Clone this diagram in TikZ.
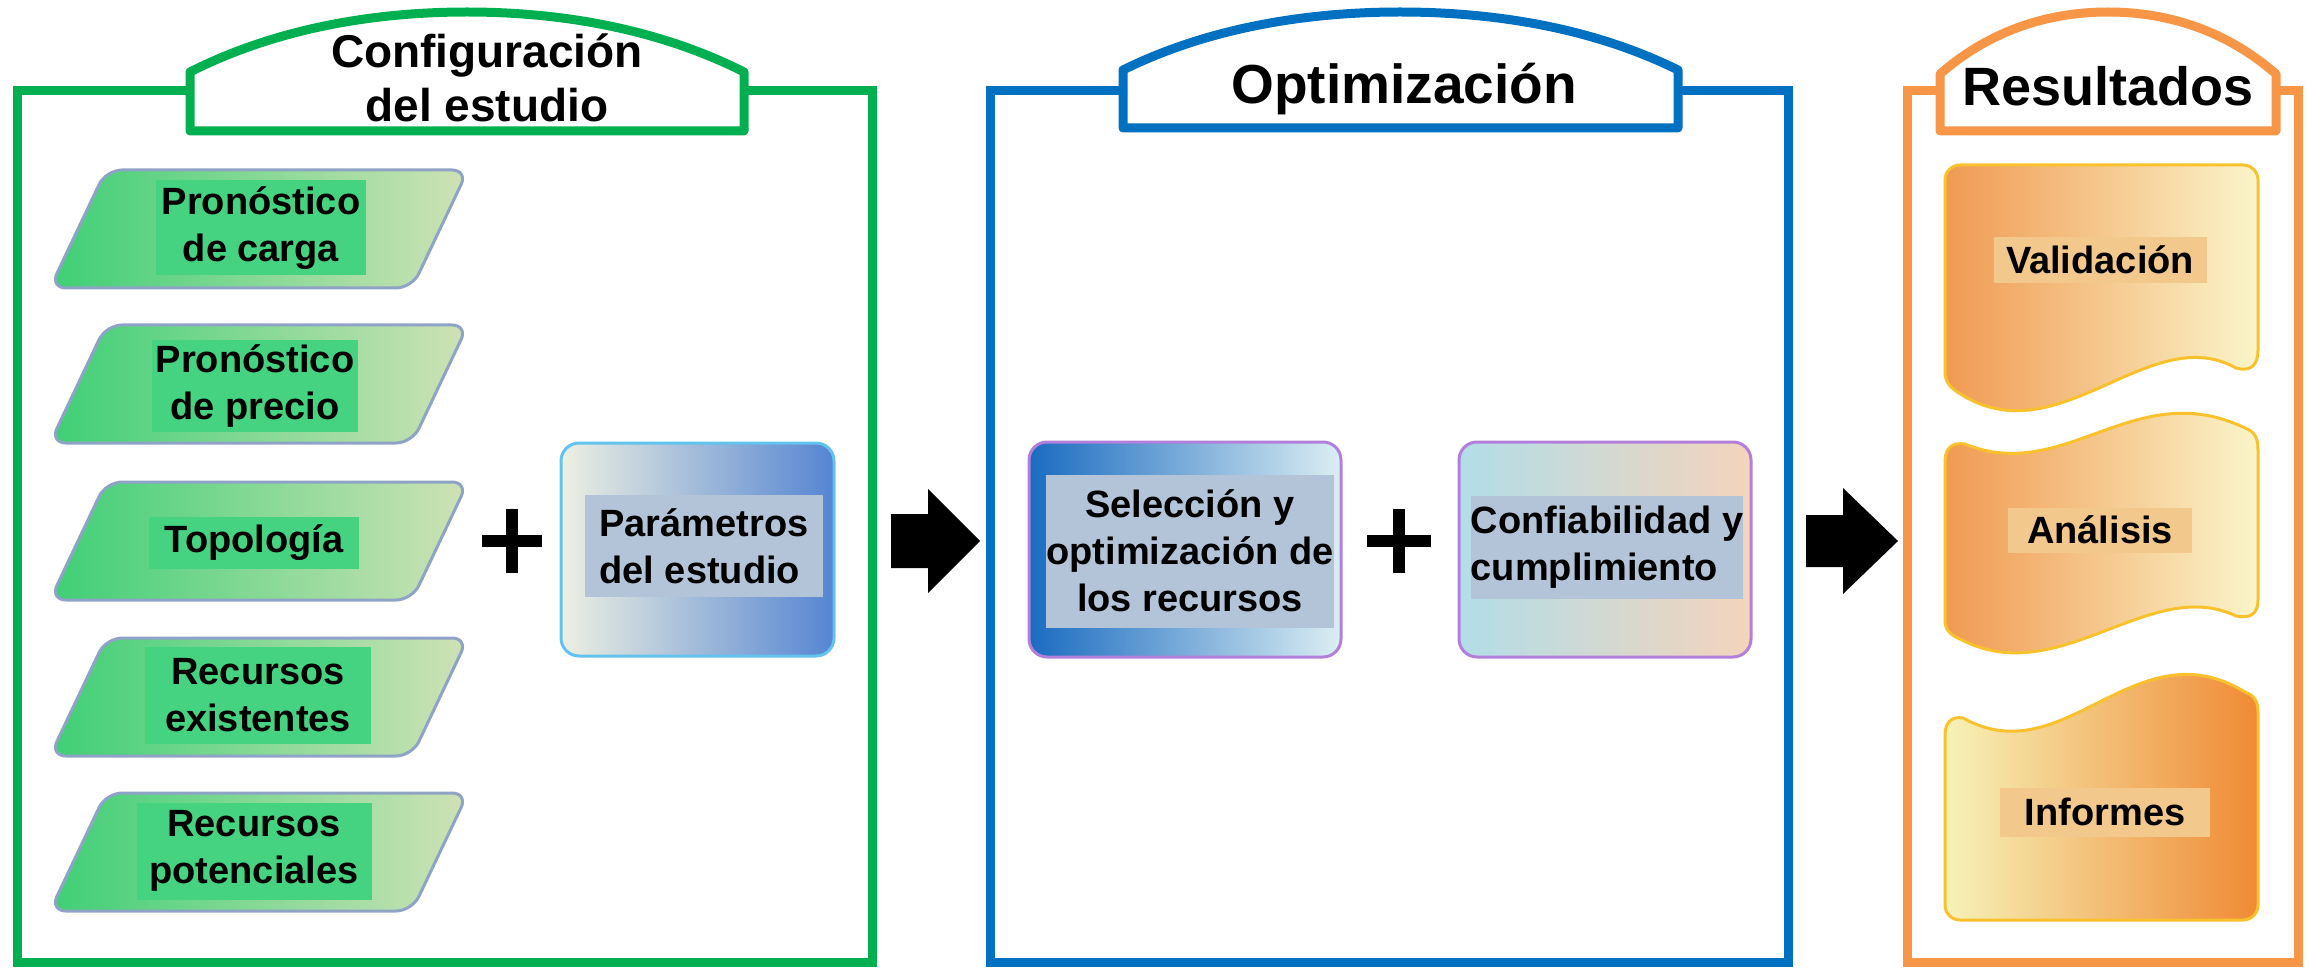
\documentclass[tikz,border=0pt]{standalone}
\usepackage{fontspec}
\setmainfont{Liberation Sans}
\definecolor{gframe}{HTML}{00B050}
\definecolor{bframe}{HTML}{0070C0}
\definecolor{oframe}{HTML}{F79646}
\definecolor{gL}{HTML}{3ECF75}
\definecolor{gM}{HTML}{86D99E}
\definecolor{gR}{HTML}{CFE2B6}
\definecolor{paraB}{HTML}{8FA3C6}
\definecolor{gbg}{HTML}{46D381}
\definecolor{parL}{HTML}{EEF0E2}
\definecolor{parM}{HTML}{DDE3E6}
\definecolor{parR}{HTML}{5585D2}
\definecolor{parB}{HTML}{62C3EE}
\definecolor{txtbg}{HTML}{B4C4D8}
\definecolor{selL}{HTML}{1A6BC0}
\definecolor{selR}{HTML}{DCEEF3}
\definecolor{conL}{HTML}{B2DDE8}
\definecolor{conM}{HTML}{D5DCD8}
\definecolor{conR}{HTML}{F4D4BC}
\definecolor{purB}{HTML}{B27FDA}
\definecolor{docA}{HTML}{F09A52}
\definecolor{docM}{HTML}{F4C88E}
\definecolor{docB}{HTML}{FAF5CA}
\definecolor{docC}{HTML}{F6F2B8}
\definecolor{docN}{HTML}{F2C584}
\definecolor{docD}{HTML}{F08A34}
\definecolor{docline}{HTML}{F9C12C}
\definecolor{docbg}{HTML}{F3C88C}
\begin{document}
\begin{tikzpicture}[x=1pt,y=-1pt,
  frame/.style={line width=9pt},
  tabshape/.style={line width=9pt, line join=round, fill=white},
  para/.style={draw=paraB, line width=3pt, rounded corners=16pt, left color=gL, middle color=gM, right color=gR},
  body/.style={font=\fontsize{38}{47}\selectfont\bfseries, inner sep=0pt},
  gtxt/.style={body, fill=gbg, align=center},
  btxt/.style={body, fill=txtbg},
  otxt/.style={body, fill=docbg},
  rbox/.style={line width=3pt, rounded corners=18pt},
  docshape/.style={draw=docline, line width=3pt, line join=round},
  plus/.style={fill=black}
]
\useasboundingbox (0,0) rectangle (2316,968);

% ---------- panel frames and tabs ----------
\draw[frame, draw=gframe] (17,91) rectangle (872,962);
\draw[tabshape, draw=gframe] (190,131) -- (190,72) .. controls (279,27) and (378,12) .. (467,12)
   .. controls (556,12) and (655,27) .. (744,72) -- (744,131) -- cycle;
\draw[frame, draw=bframe] (990,91) rectangle (1788,962);
\draw[tabshape, draw=bframe] (1123,128) -- (1123,70) .. controls (1212,26) and (1312,12) .. (1400,12)
   .. controls (1489,12) and (1589,26) .. (1678,70) -- (1678,128) -- cycle;
\draw[frame, draw=oframe] (1907,91) rectangle (2298,962);
\draw[tabshape, draw=oframe] (1940,131) -- (1940,74) .. controls (1994,27) and (2054,12) .. (2108,12)
   .. controls (2162,12) and (2222,27) .. (2276,74) -- (2276,131) -- cycle;

\node[font=\fontsize{46}{54}\selectfont\bfseries, align=center, inner sep=0pt] (title1) at (487,78) {Configuración\\del estudio};
\node[font=\fontsize{55}{60}\selectfont\bfseries, inner sep=0pt] (title2) at (1404,89) {Optimización};
\node[font=\fontsize{54}{60}\selectfont\bfseries, inner sep=0pt] (title3) at (2108,86) {Resultados};

% ---------- left panel: inputs ----------
\foreach \T in {170,325,482,638,793}{
  \draw[para] (50,{\T+118}) -- (106,\T) -- (468,\T) -- (412,{\T+118}) -- cycle;
}
\node[gtxt, minimum width=210pt, minimum height=95pt] (in1) at (261,228) {Pronóstico\\de carga};
\node[gtxt, minimum width=206pt, minimum height=92pt] (in2) at (255,386) {Pronóstico\\de precio};
\node[gtxt, minimum width=210pt, minimum height=52pt] (in3) at (254,543) {Topología};
\node[gtxt, minimum width=226pt, minimum height=97pt] (in4) at (258,695) {Recursos\\existentes};
\node[gtxt, minimum width=235pt, minimum height=97pt] (in5) at (254,851) {Recursos\\potenciales};

\fill[plus] (482,535) rectangle (542,547);
\fill[plus] (506,509) rectangle (518,573);

\draw[rbox, draw=parB, left color=parL, middle color=parM, right color=parR] (561,443) rectangle (834,656);
\node[btxt, align=left, minimum width=238pt, minimum height=102pt] (param) at (704,546) {Parámetros\\del estudio};

% ---------- block arrows ----------
\fill (891,514) -- (928,514) -- (928,489) -- (980,541) -- (928,593) -- (928,568) -- (891,568) -- cycle;
\fill (1806,515) -- (1843,515) -- (1843,488) -- (1898,541) -- (1843,594) -- (1843,567) -- (1806,567) -- cycle;

% ---------- middle panel ----------
\draw[rbox, draw=purB, left color=selL, right color=selR] (1029,442) rectangle (1341,657);
\node[btxt, align=center, minimum width=266pt, minimum height=153pt] (sel) at (1190,551) {Selección y\\optimización de\\los recursos};
\fill[plus] (1367,535) rectangle (1431,547);
\fill[plus] (1393,509) rectangle (1405,573);
\draw[rbox, draw=purB, left color=conL, middle color=conM, right color=conR] (1459,442) rectangle (1751,657);
\node[btxt, align=left, minimum width=258pt, minimum height=103pt] (conf) at (1607,547) {Confiabilidad y\\cumplimiento};

% ---------- right panel: documents ----------
\draw[docshape, left color=docA, middle color=docM, right color=docB]
  (1945,372) [rounded corners=15pt] -- (1945,165) -- (2258,165) [sharp corners] -- (2258,350)
  .. controls (2258,366) and (2250,372) .. (2236,368)
  .. controls (2150,320) and (2060,455) .. (1962,395)
  .. controls (1950,388) and (1945,382) .. (1945,372) -- cycle;
\draw[docshape, left color=docA, middle color=docM, right color=docB]
  (1945,462) .. controls (1945,448) and (1952,442) .. (1965,444)
  .. controls (2065,485) and (2135,375) .. (2245,428)
  .. controls (2255,432) and (2258,438) .. (2258,450)
  -- (2258,600) .. controls (2258,614) and (2250,619) .. (2236,616)
  .. controls (2150,575) and (2060,690) .. (1962,640)
  .. controls (1950,635) and (1945,630) .. (1945,620) -- cycle;
\draw[docshape, left color=docC, middle color=docN, right color=docD]
  (1945,735) .. controls (1945,722) and (1952,716) .. (1963,718)
  .. controls (2065,775) and (2135,625) .. (2245,692)
  .. controls (2255,696) and (2258,702) .. (2258,712)
  [rounded corners=15pt] -- (2258,920) -- (1945,920) [sharp corners] -- cycle;

\node[otxt, minimum width=213pt, minimum height=46pt] (val) at (2100,260) {Validación};
\node[otxt, minimum width=184pt, minimum height=45pt] (ana) at (2100,530) {Análisis};
\node[otxt, minimum width=210pt, minimum height=49pt] (inf) at (2105,812) {Informes};
\end{tikzpicture}
\end{document}
